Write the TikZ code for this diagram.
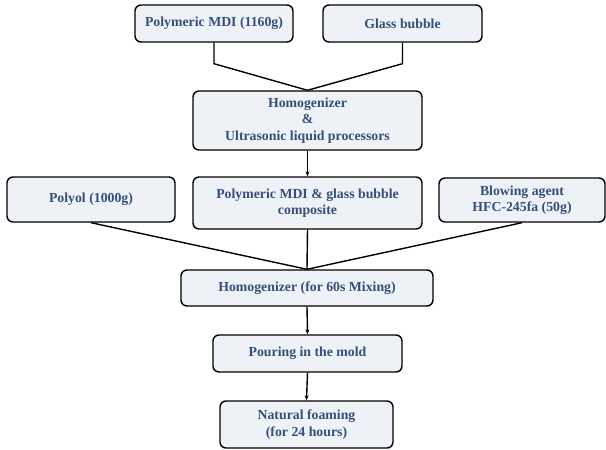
\documentclass[tikz,border=0pt]{standalone}
\usepackage{fontspec}
\setmainfont{Liberation Serif}
\usetikzlibrary{arrows.meta}
\definecolor{boxtext}{HTML}{34507A}
\definecolor{boxfill}{HTML}{EEF1F5}
\begin{document}
\begin{tikzpicture}[x=1pt,y=-1pt,
    stage/.style={draw,line width=1.4pt,rounded corners=6pt,fill=boxfill,
      text=boxtext,font=\fontsize{13.8}{16.5}\selectfont\bfseries,align=center,
      inner sep=0pt},
    link/.style={line width=1.4pt},
    flow/.style={line width=1.4pt,-{Stealth[length=5pt,width=4pt]}}]
     \useasboundingbox (0,0) rectangle (606,450);
     % top row
     \node[stage,minimum width=158pt,minimum height=37pt] (mdi)   at (214,23.5)  {Polymeric MDI (1160g)};
     \node[stage,minimum width=159pt,minimum height=37pt] (glass) at (402.5,23.5) {Glass bubble};
     \node[stage,minimum width=229pt,minimum height=59pt] (homog) at (307.5,120.5)
      {Homogenizer\\\&\\Ultrasonic liquid processors};
     % middle row
     \node[stage,minimum width=168pt,minimum height=45pt] (polyol) at (91,199.5)  {Polyol (1000g)};
     \node[stage,minimum width=229pt,minimum height=52pt] (comp)   at (307.5,203) {Polymeric MDI \& glass bubble\\composite};
     \node[stage,minimum width=166pt,minimum height=44pt] (blow)   at (522,200)   {Blowing agent\\HFC-245fa (50g)};
     % bottom chain
     \node[stage,minimum width=252pt,minimum height=36pt] (mix)  at (307,288)   {Homogenizer (for 60s Mixing)};
     \node[stage,minimum width=189pt,minimum height=37pt] (pour) at (307.5,353.5) {Pouring in the mold};
     \node[stage,minimum width=173pt,minimum height=47pt] (foam) at (306.5,424.5) {Natural foaming\\(for 24 hours)};
     % connectors
     \draw[link] (mdi.south)   -- ++(0,21) -- (homog.north);
     \draw[link] (glass.south) -- ++(0,21) -- (homog.north);
     \draw[flow] (homog.south) -- (comp.north);
     \draw[link] (polyol.south) -- (mix.north);
     \draw[link] (comp.south)   -- (mix.north);
     \draw[link] (blow.south)   -- (mix.north);
     \draw[flow] (mix.south)  -- (pour.north);
     \draw[flow] (pour.south) -- (foam.north);
    \end{tikzpicture}
\end{document}
